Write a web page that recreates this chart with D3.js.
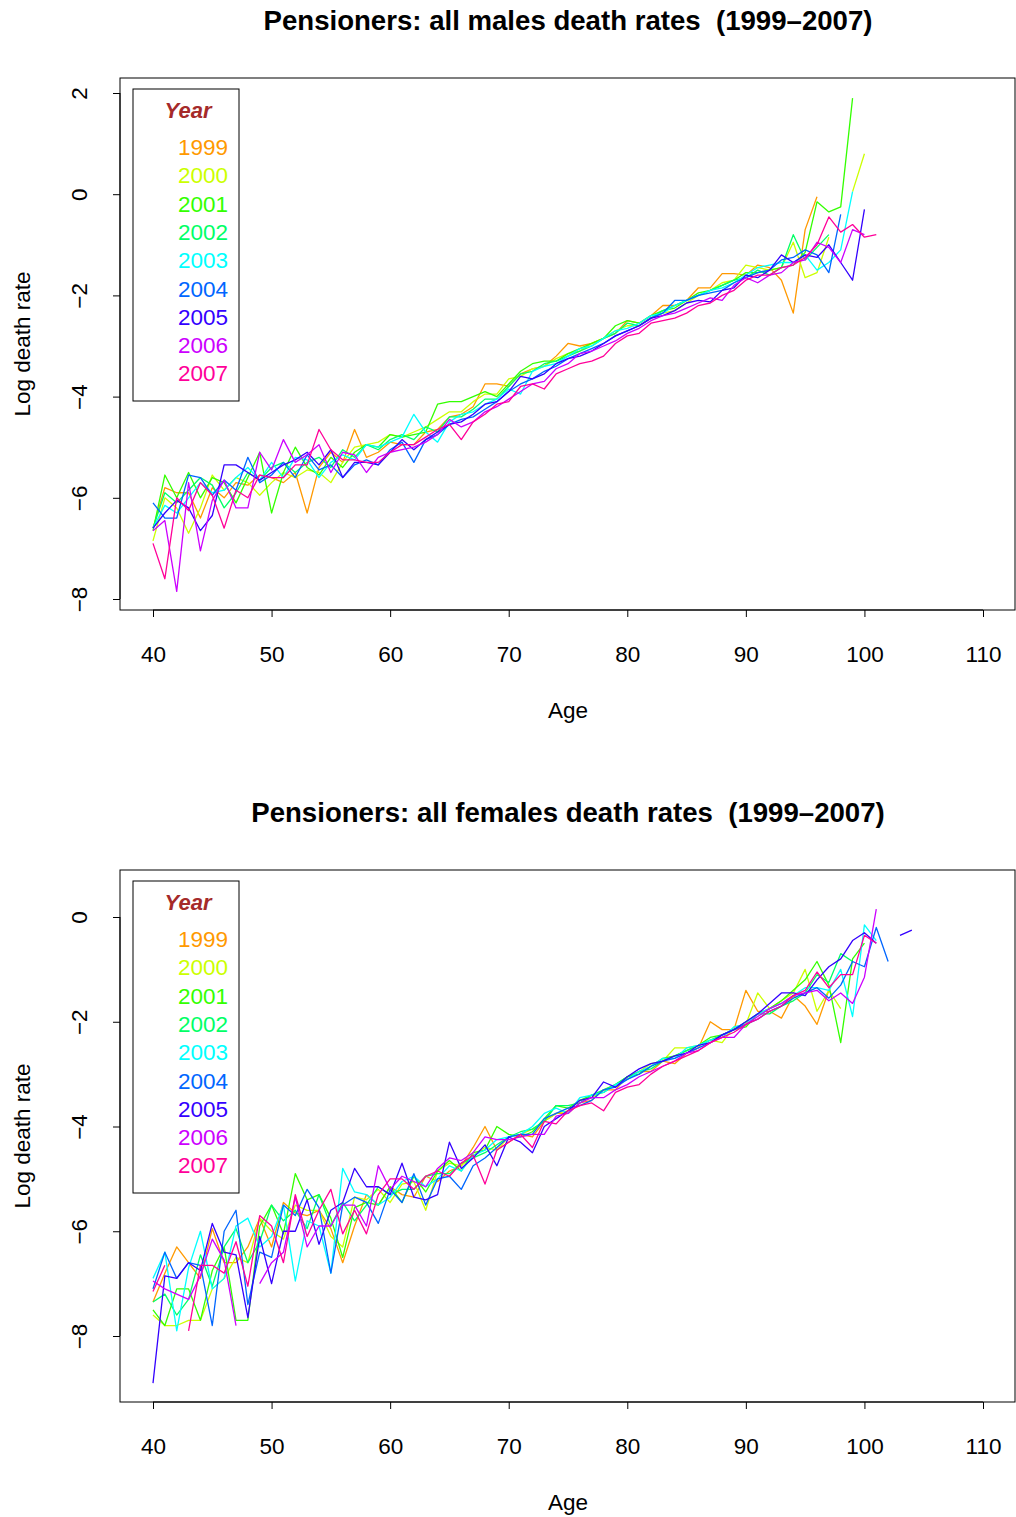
<!DOCTYPE html>
<html>
<head>
<meta charset="utf-8">
<script src="https://cdnjs.cloudflare.com/ajax/libs/d3/7.8.5/d3.min.js"></script>
<style>
  body { margin: 0; background: #fff; }
  svg { font-family: 'Liberation Sans', Arial, sans-serif; }
</style>
</head>
<body>
<svg width="1016" height="1517"></svg>
<script>
// ages start at 40; null = missing (log of zero rate)
var years = ["1999", "2000", "2001", "2002", "2003", "2004", "2005", "2006", "2007"];
var colors = ["#FF9900", "#CCFF00", "#33FF00", "#00FF66", "#00FFFF", "#0066FF", "#3300FF", "#CC00FF", "#FF0099"];
var startAge = 40;

// males
var m1999 = [-6.6,-5.8,-5.9,-5.9,-6.4,-5.8,-6.0,-5.7,-5.75,-5.55,-5.6,-5.7,-5.5,-6.3,-5.4,-5.1,-5.3,-4.65,-5.2,-5.1,-4.9,-4.95,-4.95,-4.7,-4.65,-4.4,-4.35,-4.2,-3.75,-3.75,-3.8,-3.55,-3.45,-3.4,-3.2,-2.95,-3.0,-2.95,-2.85,-2.75,-2.5,-2.55,-2.4,-2.2,-2.2,-2.1,-1.85,-1.85,-1.57,-1.57,-1.6,-1.4,-1.45,-1.7,-2.35,-0.7,-0.05];
var m2000 = [-6.85,-6.0,-6.2,-6.7,-6.2,-5.55,-5.85,-5.6,-5.7,-5.95,-5.7,-5.5,-5.6,-5.45,-5.5,-5.7,-5.3,-5.0,-4.95,-4.9,-4.75,-4.8,-4.7,-4.6,-4.45,-4.3,-4.3,-4.1,-3.95,-3.95,-3.65,-3.6,-3.45,-3.4,-3.25,-3.15,-3.1,-2.95,-2.85,-2.7,-2.6,-2.6,-2.45,-2.35,-2.3,-2.15,-2.0,-1.9,-1.75,-1.7,-1.4,-1.45,-1.5,-1.45,-0.95,-1.65,-1.55,-0.85,null,0.05,0.8];
var m2001 = [-6.65,-5.55,-6.0,-5.5,-6.0,-5.6,-5.7,-6.1,-5.6,-5.1,-6.3,-5.5,-5.0,-5.4,-5.55,-5.2,-5.4,-5.1,-4.95,-5.0,-4.75,-4.8,-4.75,-4.7,-4.15,-4.1,-4.1,-4.0,-3.9,-4.0,-3.75,-3.5,-3.35,-3.3,-3.3,-3.15,-3.05,-2.95,-2.85,-2.6,-2.5,-2.55,-2.4,-2.3,-2.25,-2.1,-1.95,-1.9,-1.8,-1.7,-1.55,-1.55,-1.5,-1.45,-1.4,-1.15,-0.15,-0.35,-0.25,1.9];
var m2002 = [-6.6,-5.9,-6.1,-5.85,-5.6,-5.75,-6.2,-5.9,-5.5,-5.65,-5.4,-5.3,-5.5,-5.3,-5.2,-5.4,-5.05,-5.2,-4.95,-5.05,-4.85,-4.75,-4.85,-4.6,-4.7,-4.4,-4.4,-4.25,-4.05,-4.05,-3.8,-3.55,-3.5,-3.35,-3.3,-3.2,-3.1,-3.0,-2.85,-2.75,-2.55,-2.6,-2.45,-2.3,-2.2,-2.1,-2.0,-1.9,-1.8,-1.7,-1.65,-1.5,-1.6,-1.45,-0.8,-1.3,-1.05,-0.8];
var m2003 = [-6.6,-6.15,-6.3,-6.0,-5.7,-5.9,-5.85,-5.6,-5.4,-5.65,-5.3,-5.6,-5.2,-5.25,-5.6,-5.3,-5.15,-5.25,-4.95,-5.0,-4.9,-4.8,-4.35,-4.7,-4.9,-4.5,-4.35,-4.3,-4.15,-4.05,-3.85,-3.95,-3.5,-3.4,-3.35,-3.2,-3.05,-3.0,-2.85,-2.7,-2.65,-2.55,-2.4,-2.35,-2.2,-2.1,-2.0,-1.9,-1.85,-1.75,-1.6,-1.45,-1.4,-1.35,-1.35,-1.2,-1.5,-1.35,-1.1,0.05];
var m2004 = [-6.1,-6.4,-6.4,-5.55,-5.6,-5.95,-5.65,-5.85,-5.2,-5.7,-5.55,-5.3,-5.6,-5.15,-5.45,-5.35,-5.6,-5.35,-5.25,-5.35,-5.05,-4.9,-5.3,-4.85,-4.75,-4.55,-4.45,-4.4,-4.25,-4.1,-3.9,-3.75,-3.65,-3.5,-3.4,-3.25,-3.15,-3.05,-2.95,-2.8,-2.7,-2.6,-2.45,-2.35,-2.1,-2.1,-2.0,-1.95,-1.9,-1.75,-1.65,-1.55,-1.5,-1.3,-1.25,-1.1,-1.2,-1.55,-0.4];
var m2005 = [-6.6,-6.3,-6.05,-6.2,-6.65,-6.35,-5.35,-5.35,-5.5,-5.65,-5.5,-5.35,-5.25,-5.1,-5.35,-5.05,-5.6,-5.3,-5.3,-5.35,-5.1,-4.85,-5.05,-4.85,-4.7,-4.55,-4.5,-4.35,-4.15,-4.1,-3.9,-3.6,-3.65,-3.55,-3.35,-3.25,-3.2,-3.1,-2.95,-2.8,-2.7,-2.6,-2.45,-2.4,-2.3,-2.15,-2.1,-2.13,-1.9,-1.85,-1.6,-1.65,-1.5,-1.2,-1.35,-1.2,-1.25,-1.0,-1.35,-1.7,-0.3];
var m2006 = [-6.65,-6.45,-7.85,-5.7,-7.05,-6.05,-5.65,-6.2,-6.2,-5.1,-5.45,-4.85,-5.3,-5.15,-4.95,-5.5,-5.1,-5.15,-5.5,-5.2,-5.1,-5.05,-5.0,-4.9,-4.75,-4.45,-4.6,-4.5,-4.3,-4.2,-4.05,-3.9,-3.75,-3.7,-3.45,-3.35,-3.15,-3.1,-3.0,-2.9,-2.75,-2.65,-2.5,-2.4,-2.35,-2.25,-2.15,-2.05,-2.1,-1.8,-1.65,-1.75,-1.6,-1.55,-1.35,-1.3,-0.95,-1.05,-1.35,-0.7,-0.8];
var m2007 = [-6.9,-7.6,-6.0,-6.25,-5.7,-5.95,-6.6,-5.85,-6.0,-5.55,-5.6,-5.6,-5.35,-5.35,-4.65,-5.05,-5.25,-5.25,-5.3,-5.3,-5.1,-4.95,-4.95,-4.8,-4.65,-4.55,-4.85,-4.5,-4.35,-4.15,-4.1,-3.8,-3.75,-3.85,-3.55,-3.45,-3.35,-3.3,-3.2,-2.95,-2.8,-2.75,-2.55,-2.5,-2.45,-2.35,-2.2,-2.15,-2.0,-1.9,-1.7,-1.6,-1.6,-1.45,-1.4,-1.25,-1.0,-0.45,-0.75,-0.6,-0.85,-0.8];

// females
var f1999 = [-7.35,-6.8,-6.3,-6.6,-6.9,-5.95,-6.6,-6.6,-6.3,-5.75,-6.3,-5.45,-5.65,-5.7,-5.6,-5.95,-6.6,-5.9,-5.3,-5.5,-5.15,-5.3,-5.35,-4.95,-5.05,-4.85,-4.75,-4.4,-4.0,-4.45,-4.3,-4.15,-4.2,-3.9,-3.75,-3.75,-3.55,-3.5,-3.3,-3.3,-3.05,-2.95,-2.95,-2.75,-2.8,-2.6,-2.5,-2.0,-2.15,-2.15,-1.4,-1.8,-1.8,-1.93,-1.5,-1.7,-2.05,-1.4];
var f2000 = [-7.6,-7.8,-7.8,-7.7,-7.7,-7.1,-6.9,-6.5,-6.6,-5.75,-6.0,-6.15,-5.5,-5.6,-5.6,-6.1,-6.3,-5.35,-5.4,-5.2,-5.45,-5.1,-5.05,-5.6,-4.85,-4.7,-4.75,-4.55,-4.4,-4.45,-4.2,-4.15,-4.05,-3.9,-3.75,-3.7,-3.5,-3.45,-3.3,-3.2,-3.1,-2.95,-2.8,-2.75,-2.5,-2.5,-2.45,-2.35,-2.4,-2.1,-2.05,-1.45,-1.75,-1.6,-1.45,-1.0,-1.8,-1.4,-1.75];
var f2001 = [-7.5,-7.8,-7.1,-7.1,-7.7,-6.75,-6.3,-7.7,-7.7,-5.9,-5.5,-6.05,-4.9,-5.4,-5.3,-5.75,-6.5,-5.55,-5.45,-5.5,-5.15,-5.45,-4.95,-5.25,-4.85,-4.65,-4.85,-4.5,-4.45,-4.0,-4.15,-4.2,-4.1,-3.85,-3.6,-3.65,-3.5,-3.4,-3.35,-3.2,-3.05,-3.0,-2.85,-2.7,-2.65,-2.55,-2.45,-2.3,-2.25,-2.15,-2.1,-1.85,-1.75,-1.6,-1.4,-1.2,-0.85,-1.3,-2.4,-0.8,-0.5];
var f2002 = [-7.35,-7.2,-7.6,-7.3,-6.45,-7.05,-6.3,-5.95,-6.6,-6.2,-5.5,-5.8,-5.6,-5.95,-5.3,-5.9,-5.45,-5.8,-5.5,-5.15,-5.3,-5.2,-5.2,-4.95,-4.9,-4.9,-4.7,-4.6,-4.5,-4.35,-4.2,-4.1,-4.05,-3.9,-3.6,-3.6,-3.55,-3.4,-3.3,-3.2,-3.05,-2.95,-2.9,-2.75,-2.65,-2.55,-2.45,-2.35,-2.25,-2.15,-2.0,-1.85,-1.85,-1.7,-1.6,-1.45,-1.1,-1.25,-0.7,-0.85];
var f2003 = [-6.9,-6.4,-7.9,-6.7,-6.0,-7.1,-6.9,-5.9,-5.75,-6.3,-6.1,-5.5,-6.95,-5.8,-5.9,-6.8,-4.8,-5.25,-5.3,-5.5,-5.35,-5.05,-4.95,-5.15,-5.0,-4.75,-4.85,-4.55,-4.45,-4.25,-4.2,-4.15,-4.0,-3.75,-3.65,-3.75,-3.45,-3.4,-3.35,-3.2,-3.1,-2.95,-2.85,-2.7,-2.7,-2.5,-2.45,-2.35,-2.3,-2.1,-2.05,-1.85,-1.75,-1.65,-1.5,-1.35,-1.35,-1.4,-1.0,-1.9,-0.15,-0.45];
var f2004 = [-7.1,-6.4,-6.9,-6.6,-6.65,-7.8,-6.0,-5.6,-7.4,-6.4,-6.5,-5.5,-5.7,-5.2,-5.55,-6.8,-5.5,-5.35,-5.45,-5.85,-5.2,-5.45,-4.9,-5.5,-5.0,-4.95,-5.2,-4.75,-4.6,-4.4,-4.2,-4.15,-4.15,-3.85,-3.75,-3.65,-3.6,-3.5,-3.3,-3.25,-3.1,-3.0,-2.85,-2.75,-2.7,-2.6,-2.5,-2.4,-2.25,-2.15,-2.05,-1.95,-1.8,-1.7,-1.55,-1.45,-1.35,-1.55,-1.3,-0.85,-0.95,-0.2,-0.85];
var f2005 = [-8.9,-6.85,-6.9,-6.6,-6.75,-5.85,-6.4,-6.45,-7.65,-6.1,-7.0,-6.0,-6.0,-5.4,-6.25,-5.6,-5.45,-4.8,-5.15,-5.15,-5.3,-4.7,-5.35,-5.4,-5.3,-4.3,-4.8,-4.6,-4.35,-4.75,-4.2,-4.3,-4.5,-4.0,-3.85,-3.7,-3.5,-3.45,-3.15,-3.25,-3.05,-2.9,-2.8,-2.75,-2.65,-2.6,-2.45,-2.4,-2.25,-2.15,-2.0,-1.85,-1.65,-1.45,-1.45,-1.5,-1.2,-0.95,-0.8,-0.45,-0.3,-0.5,null,-0.35,-0.25];
var f2006 = [-6.95,-7.1,-7.2,-7.3,-6.85,-6.15,-6.55,-7.8,null,-7.0,-6.6,-6.4,-5.35,-6.3,-5.9,-5.9,-5.5,-5.5,-5.9,-4.75,-5.2,-4.95,-5.05,-5.15,-4.8,-4.6,-4.65,-4.5,-4.2,-4.25,-4.25,-4.2,-4.15,-4.15,-3.8,-3.75,-3.55,-3.45,-3.45,-3.3,-3.2,-3.05,-2.95,-2.85,-2.75,-2.6,-2.55,-2.4,-2.3,-2.3,-2.05,-1.9,-1.75,-1.65,-1.5,-1.45,-1.4,-1.6,-1.45,-1.65,-1.15,0.15];
var f2007 = [-7.15,-6.65,null,-7.9,-6.65,-6.65,-6.8,-6.2,-7.05,-5.7,-5.9,-6.6,-5.3,-6.1,-5.6,-5.2,-6.05,-5.6,-6.05,-5.3,-5.0,-5.0,-5.2,-4.95,-4.85,-4.95,-4.7,-4.55,-5.1,-4.45,-4.3,-4.15,-4.4,-3.9,-3.95,-3.7,-3.6,-3.55,-3.7,-3.35,-3.25,-3.2,-3.0,-2.85,-2.75,-2.65,-2.55,-2.4,-2.3,-2.2,-2.05,-1.95,-1.8,-1.7,-1.5,-1.4,-1.05,-1.35,-1.1,-1.1,-0.35,-0.5];

var maleSeries = [m1999, m2000, m2001, m2002, m2003, m2004, m2005, m2006, m2007];
var femaleSeries = [f1999, f2000, f2001, f2002, f2003, f2004, f2005, f2006, f2007];

var xTicks = [40, 50, 60, 70, 80, 90, 100, 110];
var maleYTicks = [2, 0, -2, -4, -6, -8];
var femaleYTicks = [0, -2, -4, -6, -8];

var svg = d3.select("svg");
var fmt = d3.format("d");   // d3 uses the unicode minus sign
var fs = "22.5px";

function drawPanel(opt) {
    var top = opt.top, box = {left: 120, right: 1015, top: top, bottom: top + 532};
    var g = svg.append("g");

    var x = d3.scaleLinear().domain([40, 110]).range([153, 983]);
    var y = d3.scaleLinear().domain(opt.yDomain).range(opt.yRange);

    // title
    g.append("text")
        .attr("x", 568).attr("y", top - 48)
        .attr("text-anchor", "middle")
        .style("white-space", "pre")
        .style("font-weight", "bold").style("font-size", "27.6px")
        .text(opt.title);

    // clip for lines
    var clipId = "clip" + opt.id;
    g.append("clipPath").attr("id", clipId)
        .append("rect")
        .attr("x", box.left).attr("y", box.top)
        .attr("width", box.right - box.left).attr("height", box.bottom - box.top);

    var line = d3.line()
        .defined(function(d) { return d.v !== null && d.v !== undefined; })
        .x(function(d) { return x(d.age); })
        .y(function(d) { return y(d.v); });

    var lines = g.append("g").attr("clip-path", "url(#" + clipId + ")");
    opt.series.forEach(function(arr, i) {
        var pts = arr.map(function(v, j) { return {age: startAge + j, v: v}; });
        lines.append("path")
            .datum(pts)
            .attr("fill", "none")
            .attr("stroke", colors[i])
            .attr("stroke-width", 1.3)
            .attr("stroke-linejoin", "round")
            .attr("d", line);
    });

    // x axis
    var xa = g.append("g").attr("transform", "translate(0," + box.bottom + ")")
        .call(d3.axisBottom(x).tickValues(xTicks).tickSize(7).tickFormat(fmt));
    xa.selectAll("text").attr("y", 52).attr("dy", null)
        .style("font-size", fs).attr("fill", "#000").attr("font-family", null);
    xa.select(".domain").attr("d", "M" + x(40) + ",0H" + x(110));

    g.append("text")
        .attr("x", 568).attr("y", box.bottom + 108)
        .attr("text-anchor", "middle").style("font-size", fs)
        .text("Age");

    // y axis
    var ya = g.append("g").attr("transform", "translate(" + box.left + ",0)")
        .call(d3.axisLeft(y).tickValues(opt.yTicks).tickSize(7).tickFormat(fmt));
    var ext = d3.extent(opt.yTicks);
    ya.select(".domain").attr("d", "M0," + y(ext[0]) + "V" + y(ext[1]));
    ya.selectAll(".tick text")
        .attr("x", null).attr("dy", null)
        .attr("text-anchor", "middle")
        .attr("transform", "translate(-33,0) rotate(-90)")
        .attr("fill", "#000").attr("font-family", null)
        .style("font-size", fs);

    g.append("text")
        .attr("transform", "translate(30," + ((box.top + box.bottom) / 2) + ") rotate(-90)")
        .attr("text-anchor", "middle").style("font-size", fs)
        .text("Log death rate");

    // plot frame
    g.append("rect")
        .attr("x", box.left).attr("y", box.top)
        .attr("width", box.right - box.left).attr("height", box.bottom - box.top)
        .attr("fill", "none").attr("stroke", "#000").attr("stroke-width", 1);

    // legend
    var lg = g.append("g").attr("transform", "translate(133," + (top + 11) + ")");
    lg.append("rect").attr("x", 0).attr("y", 0).attr("width", 106).attr("height", 312)
        .attr("fill", "#fff").attr("stroke", "#000").attr("stroke-width", 1);
    lg.append("text").attr("x", 55).attr("y", 29)
        .attr("text-anchor", "middle")
        .style("font-size", "22px").style("font-weight", "bold").style("font-style", "italic")
        .attr("fill", "#A52A2A").text("Year");
    years.forEach(function(yr, i) {
        lg.append("text").attr("x", 95).attr("y", 66 + i * 28.3)
            .attr("text-anchor", "end").style("font-size", fs)
            .attr("fill", colors[i]).text(yr);
    });
}

drawPanel({id: "m", top: 78, title: "Pensioners: all males death rates  (1999\u20132007)",
    yDomain: [2, -8], yRange: [93, 599], yTicks: maleYTicks, series: maleSeries});
drawPanel({id: "f", top: 870, title: "Pensioners: all females death rates  (1999\u20132007)",
    yDomain: [0, -8], yRange: [917, 1336], yTicks: femaleYTicks, series: femaleSeries});
</script>
</body>
</html>
